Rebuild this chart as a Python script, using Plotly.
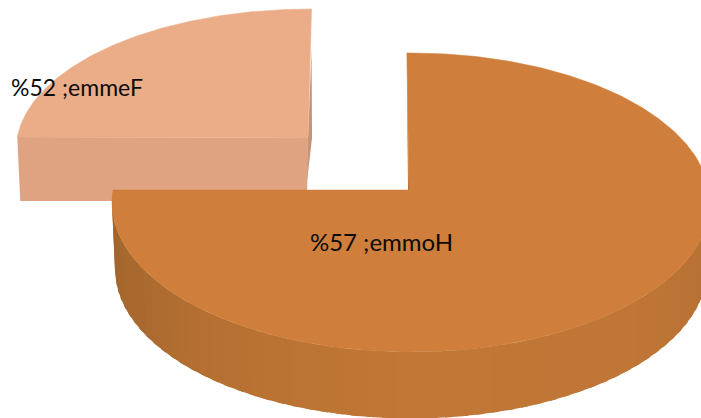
import numpy as np
import plotly.graph_objects as go

# Pie data
categories = ["Homme", "Femme"]
shares = [75, 25]
labels = ["%57 ;emmoH", "%52 ;emmeF"]

WIDTH, HEIGHT = 701, 418
HOME_TOP = "#CF7F3B"
FEM_TOP = "#EAAD88"
FEM_FRONT = "#DFA381"
SLIVER_HOME = "#A9692F"
SLIVER_FEM = "#C49478"


def arc(cx, cy, a, b, t0, t1, n=160):
    t = np.radians(np.linspace(t0, t1, n))
    return cx + a * np.cos(t), cy + b * np.sin(t)


def poly(fig, xs, ys, color, edge=0.0):
    fig.add_trace(go.Scatter(
        x=list(xs), y=list(ys), mode="lines", fill="toself", fillcolor=color,
        line=dict(color=color, width=edge), hoverinfo="skip", showlegend=False,
    ))


def shade(t):
    # wall colour across the front of the disc, darker towards the left
    stops_t = [0, 40, 90, 130, 155, 180]
    r = np.interp(t, stops_t, [0xB5, 0xBF, 0xC2, 0xB7, 0xAA, 0xA2])
    g = np.interp(t, stops_t, [0x71, 0x76, 0x78, 0x71, 0x6A, 0x65])
    b = np.interp(t, stops_t, [0x33, 0x36, 0x36, 0x32, 0x2F, 0x2D])
    return f"rgb({int(r)},{int(g)},{int(b)})"


fig = go.Figure()

# Projected disc of the large slice and the wall beneath it
hx, hy, ha, hb = 411, 202.5, 299, 149.5
wx, wy, wa, wb = 411, 269, 296, 149.5
apex_x, apex_y = 409, 190
home_start = -90.8
home_end = home_start + 360 * shares[0] / 100 + 5.6

# Detached slice, front face first so the large slice overlaps it
fx, fy, fa, fb = 310, 150, 294, 141
fem_end = 270.3
fem_start = fem_end - 360 * shares[1] / 100 + 5.0
fem_arc_x, fem_arc_y = arc(fx, fy, fa, fb, fem_start, fem_end)
fem_cx, fem_cy = 308, 138

poly(fig, [fem_arc_x[-1], fem_arc_x[-1] + 0.5, fem_cx - 2, fem_cx],
     [fem_arc_y[-1] + 40, fem_cy, 190, fem_cy], SLIVER_FEM)
poly(fig, [fem_arc_x[0], fem_cx, fem_cx - 1, fem_arc_x[0] + 3],
     [fem_arc_y[0], fem_cy, 201, 201], FEM_FRONT)
poly(fig, [fem_cx, *fem_arc_x, fem_cx], [fem_cy, *fem_arc_y, fem_cy], FEM_TOP, 0.5)

# Curved wall in narrow vertical bands, each overlapping the next one
edges = np.linspace(184, -2, 62)
for t1, t0 in zip(edges[:-1], edges[1:]):
    ux, uy = arc(hx, hy, ha, hb, t0 - 1.5, t1, 6)
    lx, ly = arc(wx, wy, wa, wb, t0 - 1.5, t1, 6)
    poly(fig, [*ux, *lx[::-1]], [*uy, *ly[::-1]], shade((t0 + t1) / 2))

# Inner cut wall of the large slice
poly(fig, [apex_x - 2, apex_x - 1, apex_x], [66, 190, 190], SLIVER_HOME)

# Top face of the large slice
home_x, home_y = arc(hx, hy, ha, hb, home_start, home_end, 300)
poly(fig, [apex_x, *home_x, apex_x], [apex_y, *home_y, apex_y], HOME_TOP, 0.5)

# Data labels
fig.add_trace(go.Scatter(
    x=[381.5, 77], y=[245, 90], mode="text", text=[labels[0], labels[1]],
    textposition="middle center",
    textfont=dict(family="Lato", size=[24, 23], color="#0b0b0b"),
    hoverinfo="skip", showlegend=False,
))

fig.update_layout(
    width=WIDTH, height=HEIGHT, margin=dict(l=0, r=0, t=0, b=0),
    paper_bgcolor="white", plot_bgcolor="white", showlegend=False,
    xaxis=dict(range=[0, WIDTH], visible=False, fixedrange=True),
    yaxis=dict(range=[HEIGHT, 0], visible=False, fixedrange=True),
)
fig.write_html("out.html", config={"displayModeBar": False})
